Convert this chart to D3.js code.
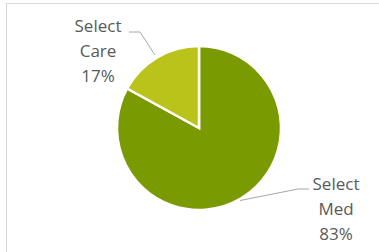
<!DOCTYPE html>
<html><head><meta charset="utf-8">
<script src="https://cdn.jsdelivr.net/npm/d3@7"></script>
<style>html,body{margin:0;padding:0;background:#fff;overflow:hidden}</style>
</head><body>
<svg id="c" width="379" height="252"></svg>
<script>
const categories = ["Select Med", "Select Care"];
const labelLines = [["Select", "Med"], ["Select", "Care"]];
const values = [83, 17];
const percentLabels = ["83%", "17%"];
const colors = ["#7a9a01", "#b9c31a"];

const svg = d3.select("#c");
svg.append("rect").attr("x", 6.5).attr("y", 3.5).attr("width", 400).attr("height", 300)
  .attr("fill", "#fff").attr("stroke", "#d9d9d9").attr("stroke-width", 1);

const cx = 199, cy = 128, r = 82;
const pie = d3.pie().sort(null).startAngle(0).endAngle(-2 * Math.PI).value(d => d);
// draw clockwise from 12 o'clock with first slice (Med) going clockwise; Care ends at top
const pieCW = d3.pie().sort(null).value(d => d);
const arcs = pieCW(values);
const arc = d3.arc().innerRadius(0).outerRadius(r);
const g = svg.append("g").attr("transform", `translate(${cx},${cy})`);
g.selectAll("path").data(arcs).join("path")
  .attr("d", arc).attr("fill", (d, i) => colors[i])
  .attr("stroke", "#fff").attr("stroke-width", 2.5).attr("stroke-linejoin", "miter");

// leader lines and labels
const labelPos = [{x: 336, y: 190}, {x: 98, y: 32}];
const leader = [
  [[240, 200.5], [298, 189], [309, 189]],
  [[155, 55], [140, 32], [129, 32]]
];
svg.selectAll("path.leader").data(leader).join("path").attr("class", "leader")
  .attr("d", d => d3.line()(d)).attr("fill", "none").attr("stroke", "#a6a6a6").attr("stroke-width", 1);

labelPos.forEach((p, i) => {
  const t = svg.append("text").attr("text-anchor", "middle")
    .attr("font-family", "'Open Sans', sans-serif").attr("font-size", 17).attr("fill", "#595959");
  const lines = labelLines[i].concat([percentLabels[i]]);
  lines.forEach((s, j) => t.append("tspan").attr("x", p.x).attr("y", p.y + j * 25).text(s));
});
</script>
</body></html>
